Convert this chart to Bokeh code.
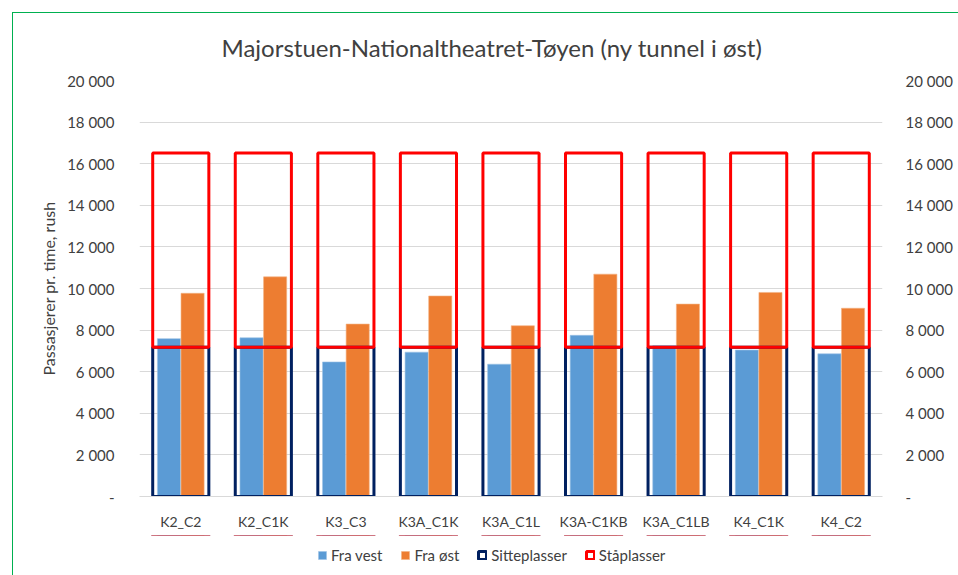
from bokeh.plotting import figure
from bokeh.layouts import column
from bokeh.models import (ColumnDataSource, FactorRange, Range1d, LinearAxis, Legend,
                          CustomJSTickFormatter, InlineStyleSheet, BoxAnnotation)
from bokeh.transform import dodge
from bokeh.embed import file_html
from bokeh.resources import INLINE

categories = ["K2_C2", "K2_C1K", "K3_C3", "K3A_C1K", "K3A_C1L", "K3A-C1KB", "K3A_C1LB", "K4_C1K", "K4_C2"]
fra_vest = [7590, 7630, 6470, 6940, 6360, 7750, 7250, 7040, 6860]
fra_ost = [9770, 10560, 8290, 9640, 8210, 10690, 9250, 9810, 9050]
sitteplasser = [7180] * 9
staaplasser = [9340] * 9
y_ticks = [0, 2000, 4000, 6000, 8000, 10000, 12000, 14000, 16000, 18000, 20000]

FONT = "Lato"
TXT = "#404040"
C_VEST, C_OST, C_SITTE, C_STAA = "#5B9BD5", "#ED7D31", "#002060", "#FF0000"

src = ColumnDataSource(dict(cat=categories, vest=fra_vest, ost=fra_ost,
                            sitte=sitteplasser, staa=staaplasser))

p = figure(x_range=FactorRange(*categories, range_padding=0), y_range=Range1d(0, 20000),
           width=958, height=535, output_backend="svg", toolbar_location=None,
           min_border_left=139, min_border_right=76, min_border_top=80, min_border_bottom=39,
           title="Majorstuen-Nationaltheatret-Tøyen (ny tunnel i øst)")
p.outline_line_color = None
p.background_fill_color = "white"
p.border_fill_color = "white"

p.title.align = "left"
p.title.offset = 82
p.title.text_font = FONT
p.title.text_font_size = "24px"
p.title.text_font_style = "normal"
p.title.text_color = TXT
p.title.standoff = 37

def draw_bars(fig):
    rv = fig.vbar(x=dodge("cat", -0.143, range=fig.x_range), top="vest", width=0.28, source=src,
                  fill_color=C_VEST, line_color="#9DC3E6", line_width=0.6)
    ro = fig.vbar(x=dodge("cat", 0.143, range=fig.x_range), top="ost", width=0.28, source=src,
                  fill_color=C_OST, line_color="#F4B183", line_width=0.6)
    rs = fig.vbar_stack(["sitte", "staa"], x="cat", width=0.68, source=src,
                        fill_color=None, line_color=[C_SITTE, C_STAA], line_width=3)
    return rv, ro, rs

draw_bars(p)

p.xgrid.grid_line_color = None
p.ygrid.grid_line_color = "#D9D9D9"
p.ygrid.grid_line_width = 1
p.ygrid.ticker = y_ticks

fmt = CustomJSTickFormatter(code="""
if (tick == 0) { return "-"; }
return String(tick).replace(/\\B(?=(\\d{3})+(?!\\d))/g, " ");
""")

p.yaxis.ticker = y_ticks
p.yaxis.formatter = fmt
p.yaxis.axis_line_color = None
p.yaxis.major_tick_line_color = None
p.yaxis.minor_tick_line_color = None
p.yaxis.major_label_text_font = FONT
p.yaxis.major_label_text_font_size = "15px"
p.yaxis.major_label_text_color = TXT
p.yaxis.major_label_standoff = 19
p.yaxis.axis_label = "Passasjerer pr. time, rush"
p.yaxis.axis_label_text_font = FONT
p.yaxis.axis_label_text_font_size = "16px"
p.yaxis.axis_label_text_font_style = "normal"
p.yaxis.axis_label_text_color = TXT
p.yaxis.axis_label_standoff = 6

ry = LinearAxis(ticker=y_ticks, formatter=fmt)
ry.axis_line_color = None
ry.major_tick_line_color = None
ry.minor_tick_line_color = None
ry.major_label_text_font = FONT
ry.major_label_text_font_size = "15px"
ry.major_label_text_color = TXT
ry.major_label_standoff = 17
p.add_layout(ry, "right")

p.xaxis.axis_line_color = "#D9D9D9"
p.xaxis.major_tick_line_color = None
p.xaxis.minor_tick_line_color = None
p.xaxis.major_label_text_font = FONT
p.xaxis.major_label_text_font_size = "14px"
p.xaxis.major_label_text_color = TXT
p.xaxis.major_label_standoff = 10

# legend strip below the chart: same renderers, pushed out of view, legend on top
lf = figure(width=958, height=40, x_range=FactorRange(*categories, range_padding=0),
            y_range=Range1d(-60000, -20000), x_axis_location=None, y_axis_location=None,
            min_border=0, output_backend="svg", toolbar_location=None)
lf.outline_line_color = None
lf.grid.visible = False
lf.border_fill_color = "white"
lf.background_fill_color = "white"
g_vest, g_ost, g_stack = draw_bars(lf)
lf.add_layout(BoxAnnotation(fill_color="white", fill_alpha=1.0, line_color=None))

legend = Legend(items=[("Fra vest", [g_vest]), ("Fra øst", [g_ost]),
                       ("Sitteplasser", [g_stack[0]]), ("Ståplasser", [g_stack[1]])],
                orientation="horizontal", location=(178, 11))
legend.label_text_font = FONT
legend.label_text_font_size = "15px"
legend.label_text_color = TXT
legend.glyph_width = 10
legend.glyph_height = 10
legend.spacing = 18
legend.label_standoff = 4
legend.border_line_color = None
legend.background_fill_alpha = 0
legend.padding = 2
legend.margin = 0
lf.add_layout(legend)

layout = column(p, lf, spacing=0)
layout.stylesheets = [InlineStyleSheet(css=""":host::after { content: ''; position: absolute; left: 12px; top: 12px;
 width: 946px; height: 563px; box-sizing: border-box;
 border-left: 1.5px solid #00B050; border-top: 1.5px solid #00B050; pointer-events: none; }""")]

open("out.html", "w").write(file_html(layout, INLINE))
